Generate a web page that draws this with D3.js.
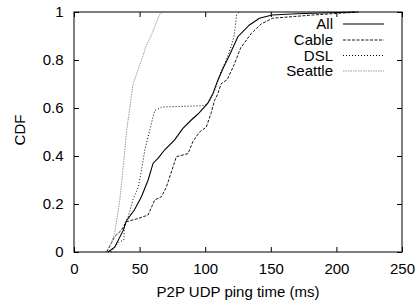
<!DOCTYPE html>
<html><head><meta charset="utf-8">
<script src="https://cdn.jsdelivr.net/npm/d3@7"></script>
<style>body{margin:0;background:#fff}svg{display:block}text{font-family:"Liberation Sans",Arial,sans-serif;font-size:15px;fill:#000}</style>
</head><body>
<svg id="c" width="416" height="301"></svg>
<script>
const xTicks = [0, 50, 100, 150, 200, 250];
const yTicks = [0, 0.2, 0.4, 0.6, 0.8, 1];
const yTickLabels = ["0", "0.2", "0.4", "0.6", "0.8", "1"];
const seriesNames = ["All", "Cable", "DSL", "Seattle"];

const allMs  = [26,31,37.5,40,46,51.4,56.5,60.3,64,69,76.7,83,89.4,94.5,99.5,102,105.9,109.7,114,118.5,124.9,133.7,141.3,151,170,195,215];
const allCdf = [0,0.02,0.09,0.13,0.175,0.23,0.30,0.37,0.39,0.425,0.467,0.515,0.55,0.575,0.605,0.62,0.66,0.717,0.77,0.82,0.897,0.946,0.974,0.9875,0.993,0.997,1];

const cableMs  = [25,31,36,40,49,56.5,61.5,66.6,70.4,75.5,78,86.9,90.6,95.7,100.8,104.6,107,109.7,112,117,122,127,135,142.6,151.4,182,217];
const cableCdf = [0,0.064,0.09,0.126,0.14,0.154,0.217,0.23,0.27,0.355,0.397,0.41,0.46,0.50,0.52,0.58,0.63,0.66,0.70,0.72,0.78,0.85,0.91,0.95,0.974,0.9875,1];

const dslMs  = [28,34,38,38.5,41,45,49,51.4,54,57.8,61.5,67,99.5,103,107,112,116,120,122,124,126];
const dslCdf = [0,0.04,0.05,0.12,0.14,0.22,0.27,0.34,0.425,0.51,0.59,0.604,0.61,0.625,0.67,0.75,0.80,0.86,0.90,0.99,1];

const seaMs  = [24,28,31,35,37.5,38.8,40,42.5,45,47.6,51.5,55,57.8,61,63,65.3,68];
const seaCdf = [0,0.03,0.078,0.22,0.355,0.425,0.5,0.6,0.70,0.74,0.8,0.86,0.89,0.93,0.96,0.99,1];

const svg = d3.select("#c");
const L = 74, R = 402, T = 12, B = 252;
const x = d3.scaleLinear().domain([0, 250]).range([L, R]);
const y = d3.scaleLinear().domain([0, 1]).range([B, T]);

const styles = [
  {stroke:"#000", dash:null, w:1.1},
  {stroke:"#000", dash:"3,1.5", w:0.9},
  {stroke:"#000", dash:"1,2", w:1},
  {stroke:"#999", dash:"1.5,1", w:1}
];
const data = [[allMs,allCdf],[cableMs,cableCdf],[dslMs,dslCdf],[seaMs,seaCdf]];

const tl = 5;
svg.append("g").attr("transform",`translate(0,${B})`)
  .call(d3.axisBottom(x).tickValues(xTicks).tickSize(-tl).tickPadding(tl+9))
  .call(g=>{g.select(".domain").remove();});
svg.append("g").attr("transform",`translate(0,${T})`)
  .call(d3.axisTop(x).tickValues(xTicks).tickSize(-tl).tickFormat(""))
  .call(g=>g.select(".domain").remove());
svg.append("g").attr("transform",`translate(${L},0)`)
  .call(d3.axisLeft(y).tickValues(yTicks).tickSize(-tl).tickPadding(tl+5.5).tickFormat((d,i)=>yTickLabels[i]))
  .call(g=>g.select(".domain").remove());
svg.append("g").attr("transform",`translate(${R},0)`)
  .call(d3.axisRight(y).tickValues(yTicks).tickSize(-tl).tickFormat(""))
  .call(g=>g.select(".domain").remove());
svg.selectAll(".tick line").attr("stroke","#000");
svg.selectAll(".tick text").style("font-size","15px").style("font-family","'Liberation Sans',Arial,sans-serif").attr("fill","#000");
svg.selectAll(".tick text").filter(function(){return this.parentNode.parentNode.getAttribute("transform")===`translate(0,${B})`;})
  .attr("dy",null).attr("y",null).attr("dominant-baseline",null)
  .each(function(){ d3.select(this).attr("y",21.5).attr("dy","0"); });

const line = d3.line().x(d=>x(d[0])).y(d=>y(d[1]));
data.forEach((s,i)=>{
  const pts = s[0].map((v,j)=>[v,s[1][j]]);
  svg.append("path").datum(pts).attr("d",line).attr("fill","none")
    .attr("stroke",styles[i].stroke).attr("stroke-width",styles[i].w)
    .attr("stroke-dasharray",styles[i].dash);
});

svg.append("rect").attr("x",L).attr("y",T).attr("width",R-L).attr("height",B-T)
  .attr("fill","none").attr("stroke","#000").attr("stroke-width",1);

const legY = [24, 40, 55.5, 71];
seriesNames.forEach((n,i)=>{
  svg.append("text").attr("x",333).attr("y",legY[i]).attr("dy","0.36em").attr("text-anchor","end").text(n);
  svg.append("line").attr("x1",343).attr("x2",384).attr("y1",legY[i]).attr("y2",legY[i])
    .attr("stroke",styles[i].stroke).attr("stroke-width",styles[i].w).attr("stroke-dasharray",styles[i].dash);
});

svg.append("text").attr("x",(L+R)/2).attr("y",297).attr("text-anchor","middle").text("P2P UDP ping time (ms)");
svg.append("text").attr("transform","translate(25,130) rotate(-90)").attr("text-anchor","middle").text("CDF");
</script>
</body></html>
